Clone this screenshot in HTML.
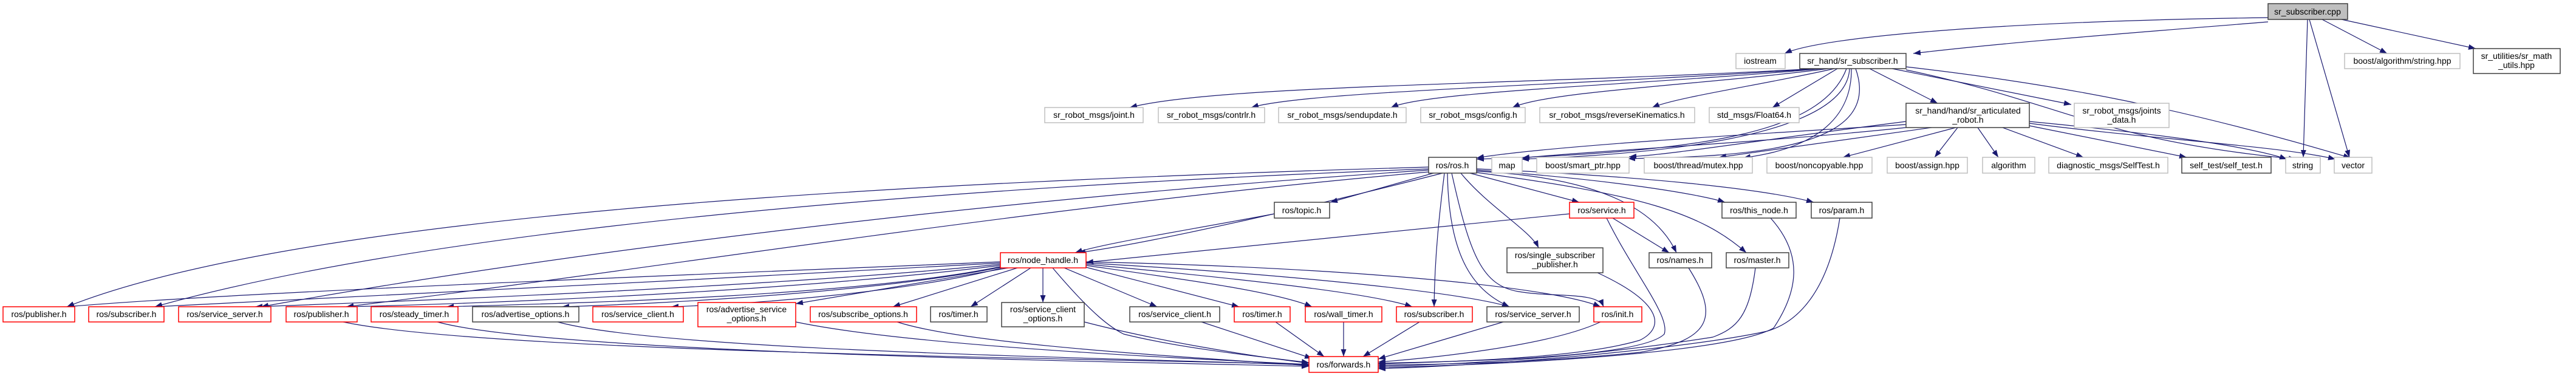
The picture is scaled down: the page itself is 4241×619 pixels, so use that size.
<!DOCTYPE html>
<html><head><meta charset="utf-8"><style>
html,body{margin:0;padding:0;background:#fff;}
svg{display:block;}
text{font-family:"Liberation Sans",sans-serif;font-size:14px;fill:#000;text-anchor:middle;}
.b{fill:#fff;stroke:#404040;stroke-width:1.5;}
.g{fill:#fff;stroke:#bfbfbf;stroke-width:1.5;}
.r{fill:#fff;stroke:#ff0000;stroke-width:1.5;}
.e{fill:none;stroke:#191970;stroke-width:1.2;marker-end:url(#a);}
.n{fill:none;stroke:#191970;stroke-width:1.2;}
</style></head><body>
<svg width="4241" height="619" viewBox="0 0 4241 619" xmlns="http://www.w3.org/2000/svg">
<defs><marker id="a" markerUnits="userSpaceOnUse" markerWidth="12" markerHeight="9" refX="12" refY="4.5" orient="auto"><path d="M0,0 L12,4.5 L0,9 z" fill="#191970"/></marker></defs>

<!-- edges from sr_subscriber.cpp -->
<path class="e" d="M3734,29 C3300,35 3000,60 2938,88"/>
<path class="e" d="M3734,36 C3500,55 3300,70 3150,88"/>
<path class="e" d="M3823,32 L3930,88"/>
<path class="e" d="M3855,32 L4076,80"/>
<path class="e" d="M3799,32 L3792,259"/>
<path class="e" d="M3802,32 L3868,259"/>
<!-- from sr_subscriber.h -->
<path class="e" d="M2990,113 C2500,140 2000,140 1860,177"/>
<path class="e" d="M2995,113 C2600,140 2150,150 2060,177"/>
<path class="e" d="M3000,113 C2700,140 2350,150 2290,177"/>
<path class="e" d="M3010,113 C2800,140 2550,150 2490,177"/>
<path class="e" d="M3020,113 C2900,140 2760,160 2720,177"/>
<path class="e" d="M3025,113 L2918,177"/>
<path class="e" d="M3078,113 L3190,170"/>
<path class="e" d="M3115,113 L3410,172"/>
<path class="e" d="M3040,113 C3000,220 2800,250 2431,262"/>
<path class="e" d="M3045,113 C3040,230 2700,255 2505,262"/>
<path class="e" d="M3055,113 C3100,240 2900,258 2680,261"/>
<path class="e" d="M3048,113 C3050,240 2900,255 2870,260"/>
<path class="e" d="M3138,110 C3400,140 3600,180 3870,260"/>
<path class="e" d="M3138,115 C3400,170 3450,230 3780,262"/>
<!-- from articulated -->
<path class="e" d="M3138,205 C2900,220 2550,240 2431,260"/>
<path class="e" d="M3138,210 C2900,235 2600,250 2506,260"/>
<path class="e" d="M3138,200 C2900,230 2750,255 2682,258"/>
<path class="e" d="M3180,210 L2830,259"/>
<path class="e" d="M3220,210 L3034,259"/>
<path class="e" d="M3223,210 L3185,259"/>
<path class="e" d="M3256,210 L3290,259"/>
<path class="e" d="M3297,210 L3430,259"/>
<path class="e" d="M3341,207 L3600,259"/>
<path class="e" d="M3341,200 C3550,220 3700,240 3765,262"/>
<path class="e" d="M3341,203 C3550,230 3750,240 3845,262"/>
<!-- from ros.h -->
<path class="e" d="M2352,275 C1500,300 500,350 110,505"/>
<path class="e" d="M2352,278 C1500,310 700,380 255,505"/>
<path class="e" d="M2352,280 C1600,330 900,420 430,505"/>
<path class="e" d="M2352,283 C1700,340 1100,440 570,505"/>
<path class="e" d="M2360,285 L2190,333"/>
<path class="e" d="M2375,285 C2200,330 1900,400 1775,416"/>
<path class="e" d="M2420,285 L2600,333"/>
<path class="e" d="M2405,285 C2450,340 2520,380 2533,408"/>
<path class="e" d="M2378,285 C2370,350 2362,420 2361,505"/>
<path class="e" d="M2383,285 C2385,430 2430,480 2485,505"/>
<path class="e" d="M2390,285 C2420,420 2440,470 2500,480 C2560,490 2630,480 2640,505"/>
<path class="e" d="M2431,282 C2600,290 2720,330 2760,416"/>
<path class="e" d="M2431,280 C2650,295 2800,320 2840,333"/>
<path class="e" d="M2431,278 C2700,290 2900,310 2986,333"/>
<path class="e" d="M2431,284 C2700,320 2800,350 2875,416"/>
<!-- topic, service -->
<path class="e" d="M2098,352 C1950,380 1820,400 1770,416"/>
<path class="e" d="M2584,352 L1788,432"/>
<path class="e" d="M2655,359 L2748,416"/>
<path class="e" d="M2645,359 C2690,450 2750,520 2740,550 C2700,590 2400,595 2269,598"/>
<!-- node_handle to row7 -->
<path class="e" d="M1647,431 C1200,450 400,480 110,505"/>
<path class="e" d="M1647,433 C1200,460 500,490 255,505"/>
<path class="e" d="M1647,435 C1300,470 700,495 420,505"/>
<path class="e" d="M1647,437 C1300,480 800,500 570,505"/>
<path class="e" d="M1647,439 C1400,490 900,500 735,505"/>
<path class="e" d="M1647,440 C1450,480 1100,500 925,505"/>
<path class="e" d="M1650,441 C1500,480 1250,500 1105,505"/>
<path class="e" d="M1660,441 L1310,500"/>
<path class="e" d="M1675,441 L1470,505"/>
<path class="e" d="M1697,441 L1598,505"/>
<path class="e" d="M1717,441 L1717,498"/>
<path class="e" d="M1752,441 L1905,505"/>
<path class="e" d="M1788,440 L2040,505"/>
<path class="e" d="M1788,437 C1950,460 2100,480 2160,505"/>
<path class="e" d="M1788,435 C2000,455 2250,480 2325,505"/>
<path class="e" d="M1788,433 C2100,450 2400,480 2485,505"/>
<path class="e" d="M1788,431 C2200,440 2550,470 2635,505"/>
<path class="e" d="M1733,441 C1800,520 1830,540 1850,550 C1950,575 2100,590 2155,597"/>
<!-- row7 to forwards -->
<path class="e" d="M565,530 C800,580 1800,590 2155,600"/>
<path class="e" d="M720,530 C900,580 1800,595 2155,603"/>
<path class="e" d="M918,530 C1100,580 1900,590 2155,601"/>
<path class="e" d="M1310,530 C1500,570 1950,590 2155,600"/>
<path class="e" d="M1477,530 C1600,570 2000,590 2155,602"/>
<path class="e" d="M1785,530 C1900,560 2050,585 2155,598"/>
<path class="e" d="M1978,530 L2160,590"/>
<path class="e" d="M2100,530 L2180,587"/>
<path class="e" d="M2212,530 L2212,587"/>
<path class="e" d="M2337,530 L2244,587"/>
<path class="e" d="M2475,530 L2269,591"/>
<path class="e" d="M2635,530 C2550,570 2350,590 2269,596"/>
<path class="e" d="M2630,449 C2740,500 2740,540 2700,560 C2600,590 2400,595 2269,599"/>
<path class="e" d="M2780,441 C2830,520 2820,560 2700,580 C2500,600 2330,600 2269,601"/>
<path class="e" d="M2890,441 C2880,520 2860,540 2820,555 C2600,590 2400,600 2269,603"/>
<path class="e" d="M2915,359 C2970,420 2960,480 2920,540 C2850,580 2500,600 2269,605"/>
<path class="e" d="M3029,359 C3010,480 2960,530 2910,545 C2800,570 2500,600 2269,607"/>

<!-- nodes -->
<rect class="b" x="3734" y="6" width="131" height="26" style="fill:#bfbfbf"/><text x="3799" y="24">sr_subscriber.cpp</text>
<rect class="g" x="2858" y="88" width="81" height="25"/><text x="2898" y="105">iostream</text>
<rect class="b" x="2963" y="88" width="175" height="25"/><text x="3050" y="105">sr_hand/sr_subscriber.h</text>
<rect class="g" x="3860" y="88" width="190" height="25"/><text x="3955" y="105">boost/algorithm/string.hpp</text>
<rect class="b" x="4072" y="80" width="143" height="41"/><text x="4143" y="97">sr_utilities/sr_math</text><text x="4143" y="112">_utils.hpp</text>

<rect class="g" x="1720" y="177" width="162" height="25"/><text x="1801" y="194">sr_robot_msgs/joint.h</text>
<rect class="g" x="1907" y="177" width="175" height="25"/><text x="1994" y="194">sr_robot_msgs/contrlr.h</text>
<rect class="g" x="2105" y="177" width="210" height="25"/><text x="2210" y="194">sr_robot_msgs/sendupdate.h</text>
<rect class="g" x="2339" y="177" width="172" height="25"/><text x="2425" y="194">sr_robot_msgs/config.h</text>
<rect class="g" x="2535" y="177" width="255" height="25"/><text x="2662" y="194">sr_robot_msgs/reverseKinematics.h</text>
<rect class="g" x="2814" y="177" width="148" height="25"/><text x="2888" y="194">std_msgs/Float64.h</text>
<rect class="b" x="3138" y="170" width="203" height="40"/><text x="3240" y="187">sr_hand/hand/sr_articulated</text><text x="3240" y="202">_robot.h</text>
<rect class="g" x="3415" y="170" width="156" height="40"/><text x="3493" y="187">sr_robot_msgs/joints</text><text x="3493" y="202">_data.h</text>

<rect class="b" x="2352" y="259" width="79" height="26"/><text x="2391" y="277">ros/ros.h</text>
<rect class="g" x="2456" y="259" width="50" height="26"/><text x="2481" y="277">map</text>
<rect class="g" x="2530" y="259" width="152" height="26"/><text x="2606" y="277">boost/smart_ptr.hpp</text>
<rect class="g" x="2707" y="259" width="178" height="26"/><text x="2796" y="277">boost/thread/mutex.hpp</text>
<rect class="g" x="2909" y="259" width="173" height="26"/><text x="2995" y="277">boost/noncopyable.hpp</text>
<rect class="g" x="3107" y="259" width="132" height="26"/><text x="3173" y="277">boost/assign.hpp</text>
<rect class="g" x="3264" y="259" width="86" height="26"/><text x="3307" y="277">algorithm</text>
<rect class="g" x="3373" y="259" width="196" height="26"/><text x="3471" y="277">diagnostic_msgs/SelfTest.h</text>
<rect class="b" x="3592" y="259" width="147" height="26"/><text x="3665" y="277">self_test/self_test.h</text>
<rect class="g" x="3763" y="259" width="57" height="26"/><text x="3791" y="277">string</text>
<rect class="g" x="3843" y="259" width="62" height="26"/><text x="3874" y="277">vector</text>

<rect class="b" x="2098" y="333" width="91" height="26"/><text x="2143" y="351">ros/topic.h</text>
<rect class="r" x="2584" y="333" width="106" height="26"/><text x="2637" y="351">ros/service.h</text>
<rect class="b" x="2835" y="333" width="122" height="26"/><text x="2896" y="351">ros/this_node.h</text>
<rect class="b" x="2982" y="333" width="100" height="26"/><text x="3032" y="351">ros/param.h</text>

<rect class="r" x="1647" y="416" width="141" height="25"/><text x="1717" y="433">ros/node_handle.h</text>
<rect class="b" x="2481" y="408" width="158" height="41"/><text x="2560" y="425">ros/single_subscriber</text><text x="2560" y="440">_publisher.h</text>
<rect class="b" x="2715" y="416" width="103" height="25"/><text x="2766" y="433">ros/names.h</text>
<rect class="b" x="2842" y="416" width="103" height="25"/><text x="2893" y="433">ros/master.h</text>

<rect class="r" x="5" y="505" width="118" height="25"/><text x="64" y="522">ros/publisher.h</text>
<rect class="r" x="146" y="505" width="124" height="25"/><text x="208" y="522">ros/subscriber.h</text>
<rect class="r" x="294" y="505" width="152" height="25"/><text x="370" y="522">ros/service_server.h</text>
<rect class="r" x="471" y="505" width="117" height="25"/><text x="529" y="522">ros/publisher.h</text>
<rect class="r" x="611" y="505" width="143" height="25"/><text x="682" y="522">ros/steady_timer.h</text>
<rect class="b" x="778" y="505" width="175" height="25"/><text x="865" y="522">ros/advertise_options.h</text>
<rect class="r" x="976" y="505" width="149" height="25"/><text x="1050" y="522">ros/service_client.h</text>
<rect class="r" x="1149" y="498" width="161" height="40"/><text x="1229" y="514">ros/advertise_service</text><text x="1229" y="529">_options.h</text>
<rect class="r" x="1334" y="505" width="175" height="25"/><text x="1421" y="522">ros/subscribe_options.h</text>
<rect class="b" x="1532" y="505" width="93" height="25"/><text x="1578" y="522">ros/timer.h</text>
<rect class="b" x="1649" y="498" width="136" height="40"/><text x="1717" y="514">ros/service_client</text><text x="1717" y="529">_options.h</text>
<rect class="b" x="1860" y="505" width="148" height="25"/><text x="1934" y="522">ros/service_client.h</text>
<rect class="r" x="2032" y="505" width="92" height="25"/><text x="2078" y="522">ros/timer.h</text>
<rect class="r" x="2149" y="505" width="126" height="25"/><text x="2212" y="522">ros/wall_timer.h</text>
<rect class="r" x="2299" y="505" width="125" height="25"/><text x="2361" y="522">ros/subscriber.h</text>
<rect class="b" x="2448" y="505" width="152" height="25"/><text x="2524" y="522">ros/service_server.h</text>
<rect class="r" x="2624" y="505" width="79" height="25"/><text x="2663" y="522">ros/init.h</text>

<rect class="r" x="2155" y="587" width="114" height="26"/><text x="2212" y="605">ros/forwards.h</text>
</svg>
</body></html>
